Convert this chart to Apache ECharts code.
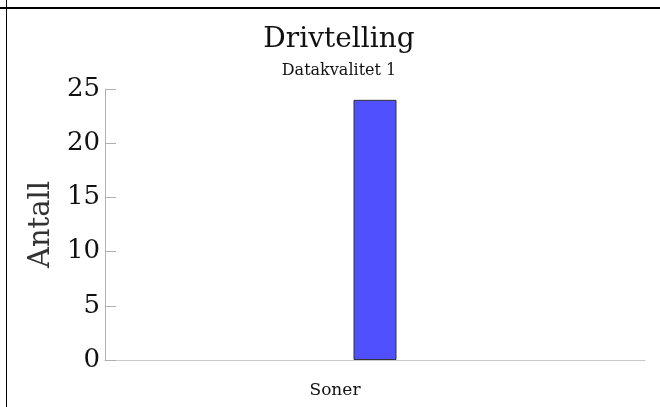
<!DOCTYPE html>
<html>
<head>
<meta charset="utf-8">
<script src="https://cdn.jsdelivr.net/npm/echarts@6/dist/echarts.min.js"></script>
<style>
  html, body { margin: 0; padding: 0; background: #fff; }
  #chart { width: 660px; height: 407px; }
  .hline { position: absolute; left: 0; top: 7px; width: 660px; height: 2px; background: #000; }
  .vline { position: absolute; left: 6px; top: 0; width: 1px; height: 407px; background: #000; }
</style>
</head>
<body>
<div id="chart"></div>
<div class="hline"></div>
<div class="vline"></div>
<script>
const categories = ['Soner']
const counts = [24]
const yTicks = [0, 5, 10, 15, 20, 25]

const serif = 'DejaVu Serif'

const chart = echarts.init(document.getElementById('chart'))

chart.setOption({
  animation: false,
  title: {
    text: 'Drivtelling',
    subtext: 'Datakvalitet 1',
    left: 334,
    textAlign: 'center',
    top: 21,
    itemGap: 9,
    textStyle: {fontFamily: serif, fontSize: 28, fontWeight: 'normal', color: '#111'},
    subtextStyle: {fontFamily: serif, fontSize: 16, color: '#111'},
  },
  grid: {left: 105, right: 15, top: 89, bottom: 47},
  xAxis: {
    type: 'category',
    data: categories,
    axisLabel: {show: false},
    axisTick: {show: false},
    axisLine: {lineStyle: {color: '#c8c8c8', width: 1}},
    name: categories[0],
    nameLocation: 'middle',
    nameGap: 22,
    nameTextStyle: {fontFamily: serif, fontSize: 17, color: '#111', padding: [0, 80, 0, 0]},
  },
  yAxis: {
    type: 'value',
    min: yTicks[0],
    max: yTicks[yTicks.length - 1],
    interval: 5,
    splitLine: {show: false},
    axisLine: {show: true, lineStyle: {color: '#b0b0b0', width: 1}},
    axisTick: {show: true, inside: true, length: 11, lineStyle: {color: '#b0b0b0'}},
    axisLabel: {fontFamily: serif, fontSize: 26, color: '#111', margin: 5},
    name: 'Antall',
    nameLocation: 'middle',
    nameGap: 48,
    nameTextStyle: {fontFamily: serif, fontSize: 29, color: '#333'},
  },
  series: [{
    type: 'bar',
    data: counts,
    barWidth: 43,
    itemStyle: {color: '#5050ff', borderColor: '#333', borderWidth: 1},
  }],
})
</script>
</body>
</html>
